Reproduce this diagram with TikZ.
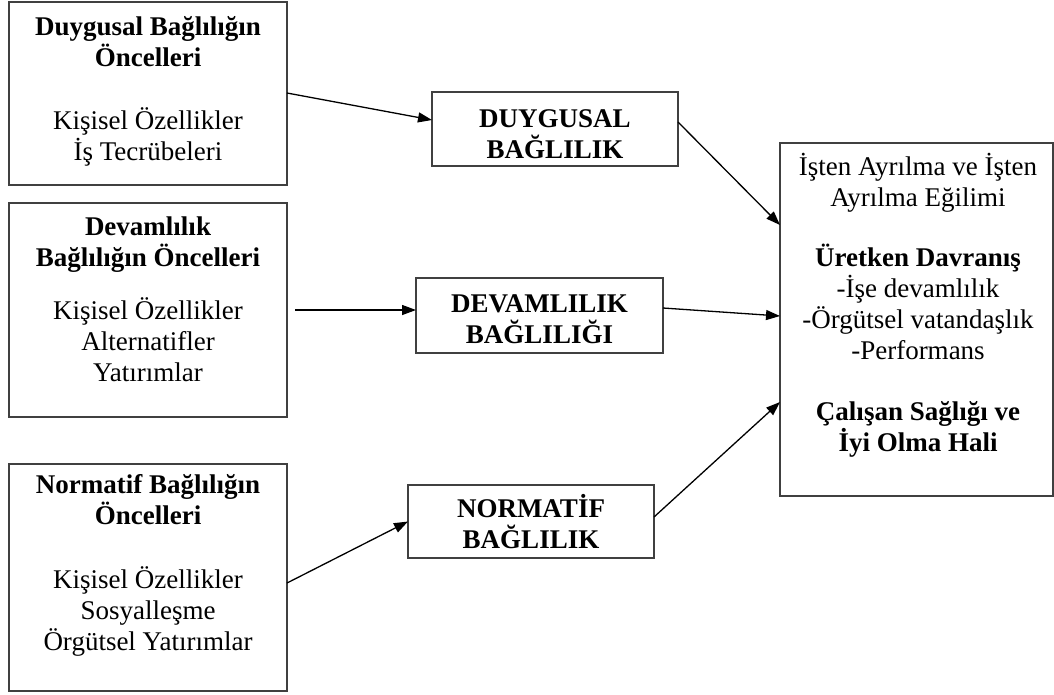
\documentclass[tikz,border=0pt]{standalone}
\usepackage{fontspec}
\setmainfont{Liberation Serif}
\usetikzlibrary{arrows.meta}

\tikzset{
  box/.style={draw=black!75, line width=1.6pt, rectangle, inner sep=0pt, outer sep=0pt},
  label text/.style={anchor=north, align=center, inner sep=0pt,
    font=\fontsize{27}{31}\selectfont},
  link/.style={draw=black, line width=1.3pt, -{Triangle[length=14pt,width=10pt]}},
}
\newcommand{\firstline}{\rule{0pt}{24pt}}

\begin{document}
\begin{tikzpicture}[x=1pt, y=-1pt]
  \useasboundingbox (0,0) rectangle (1054,694);

  % antecedent boxes (left column)
  \node[box, minimum width=278pt, minimum height=183pt] (b1) at (148,93.5) {};
  \node[box, minimum width=278pt, minimum height=214pt] (b2) at (148,310) {};
  \node[box, minimum width=278pt, minimum height=227pt] (b3) at (148,577.5) {};

  % commitment boxes (middle column)
  \node[box, minimum width=246pt, minimum height=74pt] (d) at (555,129) {};
  \node[box, minimum width=247pt, minimum height=75pt] (v) at (539.5,315.5) {};
  \node[box, minimum width=246pt, minimum height=73pt] (n) at (531,521.5) {};

  % outcomes box
  \node[box, minimum width=273pt, minimum height=353pt] (r) at (916.5,319.5) {};

  % texts
  \node[label text] (t1) at (148,11)
    {\firstline\textbf{Duygusal Bağlılığın}\\\textbf{Öncelleri}\\[32pt]Kişisel Özellikler\\İş Tecrübeleri};
  \node[label text] (t2) at (148,211)
    {\firstline\textbf{Devamlılık}\\\textbf{Bağlılığın Öncelleri}\\[22pt]Kişisel Özellikler\\Alternatifler\\Yatırımlar};
  \node[label text] (t3) at (148,469)
    {\firstline\textbf{Normatif Bağlılığın}\\\textbf{Öncelleri}\\[33pt]Kişisel Özellikler\\Sosyalleşme\\Örgütsel Yatırımlar};

  \node[label text] (td) at (555,103) {\firstline\textbf{DUYGUSAL}\\\textbf{BAĞLILIK}};
  \node[label text] (tv) at (539.5,288) {\firstline\textbf{DEVAMLILIK}\\\textbf{BAĞLILIĞI}};
  \node[label text] (tn) at (531,493) {\firstline\textbf{NORMATİF}\\\textbf{BAĞLILIK}};

  \node[label text] (tr) at (918,151)
    {\firstline İşten Ayrılma ve İşten\\Ayrılma Eğilimi\\[29pt]\textbf{Üretken Davranış}\\-İşe devamlılık\\-Örgütsel vatandaşlık\\-Performans\\[30pt]\textbf{Çalışan Sağlığı ve}\\\textbf{İyi Olma Hali}};

  % connectors
  \draw[link] ([yshift=-91pt]b1.north east) -- ([yshift=9pt]d.west);
  \draw[link] ([yshift=7pt]d.east) -- ([yshift=-82pt]r.north west);
  \draw[link, shorten <=8pt] (b2.east) -- ([yshift=5.5pt]v.west);
  \draw[link] ([yshift=7.5pt]v.east) -- ([yshift=-173pt]r.north west);
  \draw[link] ([yshift=-5.5pt]b3.east) -- (n.west);
  \draw[link] ([yshift=4.5pt]n.east) -- ([yshift=-259pt]r.north west);
\end{tikzpicture}
\end{document}
